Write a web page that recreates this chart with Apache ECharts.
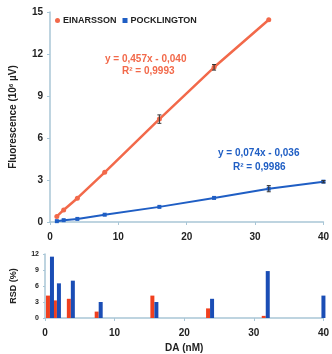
<!DOCTYPE html>
<html>
<head>
<meta charset="utf-8">
<script src="https://cdn.jsdelivr.net/npm/echarts@6/dist/echarts.min.js"></script>
<style>
html,body{margin:0;padding:0;background:#fff;}
#main{width:332px;height:354px;}
</style>
</head>
<body>
<div id="main"></div>
<script>
// concentrations (nM)
var einX=[1,2,4,8,16,24,32];
var einY=[0.4,0.86,1.7,3.55,7.35,11.05,14.45];
var einErr=[0,0,0,0,0.3,0.2,0];
var pocX=[1,2,4,8,16,24,32,40];
var pocY=[0.06,0.13,0.22,0.52,1.08,1.72,2.38,2.88];
var pocErr=[0,0,0,0,0,0,0.22,0.08];
// RSD (%)
var rsdX=[1,2,4,8,16,24,32,40];
var einRsd=[4.2,3.3,3.6,1.2,4.2,1.8,0.4,0];
var pocRsd=[11.5,6.5,7.0,3.0,3.0,3.6,8.8,4.2];

var orange='#f2694a', blue='#1f5ec4';
var barOrange='#f0401f', barBlue='#1a4db5';
var axisCol='#a9c6d6';
var txt='#222';
var ff='Liberation Sans';

function pairs(xs,ys){
	var r=[];
	for(var i=0;i<xs.length;i++) r.push([xs[i],ys[i]]);
	return r;
}
function errData(xs,ys,es){
	var r=[];
	for(var i=0;i<xs.length;i++){
		if(es[i]>0) r.push([xs[i],ys[i]-es[i],ys[i]+es[i]]);
	}
	return r;
}
function errRender(params,api){
	var x=api.value(0);
	var lo=api.coord([x,api.value(1)]);
	var hi=api.coord([x,api.value(2)]);
	var w=2;
	var st={stroke:'#333',lineWidth:1};
	return {type:'group',children:[
		{type:'line',shape:{x1:lo[0],y1:lo[1],x2:hi[0],y2:hi[1]},style:st},
		{type:'line',shape:{x1:lo[0]-w,y1:lo[1],x2:lo[0]+w,y2:lo[1]},style:st},
		{type:'line',shape:{x1:hi[0]-w,y1:hi[1],x2:hi[0]+w,y2:hi[1]},style:st}
	]};
}
function barRender(off,color){
	return function(params,api){
		var x=api.value(0);
		var top=api.coord([x,api.value(1)]);
		var base=api.coord([x,0]);
		var w=4;
		return {type:'rect',shape:{x:top[0]+off,y:top[1],width:w,height:base[1]-top[1]},style:{fill:color}};
	};
}

var xAxisBase={
	type:'value',min:0,max:40,interval:10,
	axisLine:{lineStyle:{color:axisCol,width:1.5}},
	axisTick:{show:true,length:3,lineStyle:{color:axisCol}},
	splitLine:{show:false},
	axisLabel:{color:txt,fontFamily:ff,fontWeight:'bold',fontSize:10,margin:10}
};

var option={
	animation:false,
	textStyle:{fontFamily:ff},
	legend:{
		left:50,top:11,itemWidth:5,itemHeight:5,itemGap:6,
		textStyle:{color:txt,fontFamily:ff,fontWeight:'bold',fontSize:9,padding:[0,0,0,-2]},
		data:[{name:'EINARSSON',icon:'circle'},{name:'POCKLINGTON',icon:'rect'}]
	},
	grid:[
		{left:45,right:6,top:12,height:210},
		{left:45,right:6,top:254,height:71}
	],
	xAxis:[
		Object.assign({gridIndex:0},xAxisBase),
		Object.assign({gridIndex:1,name:'DA (nM)',nameLocation:'middle',nameGap:25,
			nameTextStyle:{color:txt,fontFamily:ff,fontWeight:'bold',fontSize:10}},xAxisBase)
	],
	yAxis:[
		{
			gridIndex:0,type:'value',min:0,max:15,interval:3,
			name:'{a|Fluorescence (10}{s|6}{a| \u00b5V)}',nameLocation:'middle',nameGap:31,
			nameTextStyle:{
				rich:{
					a:{color:txt,fontFamily:ff,fontWeight:'bold',fontSize:10},
					s:{color:txt,fontFamily:ff,fontWeight:'bold',fontSize:6,verticalAlign:'top',padding:[0,0,5,0]}
				}
			},
			axisLine:{show:true,lineStyle:{color:axisCol,width:1.5}},
			axisTick:{show:true,length:3,lineStyle:{color:axisCol}},
			splitLine:{show:false},
			axisLabel:{color:txt,fontFamily:ff,fontWeight:'bold',fontSize:10,margin:7}
		},
		{
			gridIndex:1,type:'value',min:0,max:12,interval:3,
			name:'RSD (%)',nameLocation:'middle',nameGap:27,
			nameTextStyle:{color:txt,fontFamily:ff,fontWeight:'bold',fontSize:9},
			axisLine:{show:true,lineStyle:{color:axisCol,width:1.5}},
			axisTick:{show:true,length:2,lineStyle:{color:axisCol}},
			splitLine:{show:false},
			axisLabel:{color:txt,fontFamily:ff,fontWeight:'bold',fontSize:7,margin:6}
		}
	],
	series:[
		{
			name:'EINARSSON',type:'line',xAxisIndex:0,yAxisIndex:0,
			data:pairs(einX,einY),
			symbol:'circle',symbolSize:5,
			lineStyle:{color:orange,width:2.5},
			itemStyle:{color:orange}
		},
		{
			name:'POCKLINGTON',type:'line',xAxisIndex:0,yAxisIndex:0,
			data:pairs(pocX,pocY),
			symbol:'rect',symbolSize:4,
			lineStyle:{color:blue,width:2},
			itemStyle:{color:blue}
		},
		{type:'custom',xAxisIndex:0,yAxisIndex:0,renderItem:errRender,data:errData(einX,einY,einErr),z:5},
		{type:'custom',xAxisIndex:0,yAxisIndex:0,renderItem:errRender,data:errData(pocX,pocY,pocErr),z:5},
		{
			name:'EINARSSON',type:'custom',xAxisIndex:1,yAxisIndex:1,
			renderItem:barRender(-6,barOrange),data:pairs(rsdX,einRsd),itemStyle:{color:barOrange}
		},
		{
			name:'POCKLINGTON',type:'custom',xAxisIndex:1,yAxisIndex:1,
			renderItem:barRender(-2,barBlue),data:pairs(rsdX,pocRsd),itemStyle:{color:barBlue}
		}
	],
	graphic:[
		{type:'text',left:105,top:54,style:{text:'y = 0,457x - 0,040',fill:orange,font:'bold 10px "Liberation Sans"'}},
		{type:'text',left:122,top:66,style:{text:'R\u00b2 = 0,9993',fill:orange,font:'bold 10px "Liberation Sans"'}},
		{type:'text',left:218,top:148,style:{text:'y = 0,074x - 0,036',fill:blue,font:'bold 10px "Liberation Sans"'}},
		{type:'text',left:233,top:162,style:{text:'R\u00b2 = 0,9986',fill:blue,font:'bold 10px "Liberation Sans"'}}
	]
};

var chart=echarts.init(document.getElementById('main'));
chart.setOption(option);
</script>
</body>
</html>
